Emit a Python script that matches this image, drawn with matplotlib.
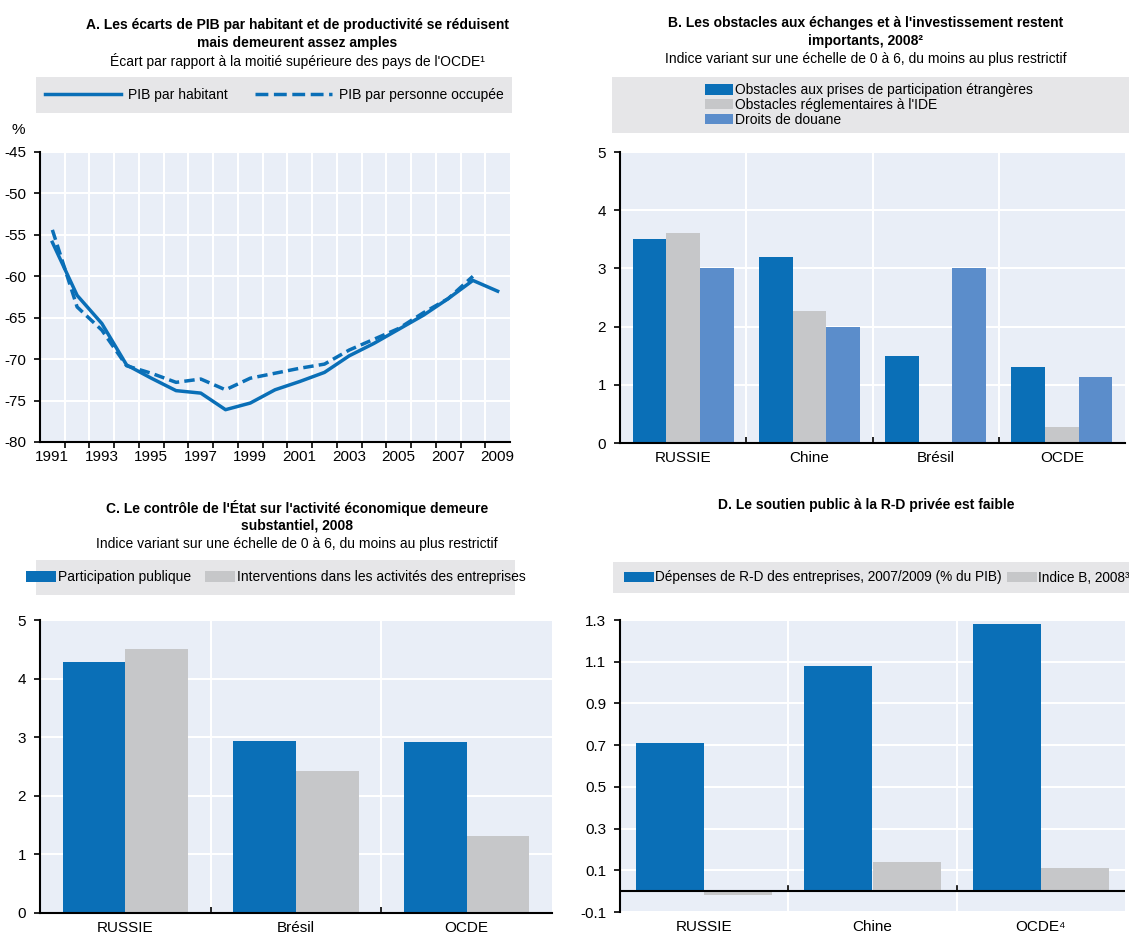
import numpy as np
import matplotlib
matplotlib.use('Agg')
import matplotlib.pyplot as plt
from matplotlib.patches import Rectangle
from matplotlib.lines import Line2D

plt.rcParams['font.family'] = ['Liberation Sans', 'DejaVu Sans']
plt.rcParams['axes.unicode_minus'] = False

# --- données ---
annees = list(range(1991, 2010))
pib_hab = [-55.9, -62.3, -65.7, -70.7, -72.3, -73.8, -74.1, -76.1, -75.3, -73.7,
           -72.7, -71.6, -69.6, -68.1, -66.4, -64.7, -62.7, -60.5, -61.8]
pib_occ = [-54.4, -63.7, -66.5, -70.8, -71.7, -72.8, -72.4, -73.7, -72.3, -71.7,
           -71.1, -70.6, -68.9, -67.6, -66.3, -64.4, -62.7, -60.0, np.nan]

pays_b = ['RUSSIE', 'Chine', 'Brésil', 'OCDE']
prises_part = [3.5, 3.2, 1.5, 1.3]
obst_regl = [3.6, 2.27, 0.0, 0.27]
droits_douane = [3.0, 2.0, 3.0, 1.13]

pays_c = ['RUSSIE', 'Brésil', 'OCDE']
part_publique = [4.28, 2.93, 2.92]
interventions = [4.5, 2.42, 1.32]

pays_d = ['RUSSIE', 'Chine', 'OCDE⁴']
depenses_rd = [0.71, 1.08, 1.28]
indice_b = [-0.02, 0.14, 0.11]

BLEU = '#0a6fb7'
BLEU2 = '#5b8dcb'
GRIS = '#c6c7c9'
FOND = '#e9eef7'
LEG = '#e6e6e8'
TXT = 10

W, H = 1129, 935
fig = plt.figure(figsize=(W / 100, H / 100), dpi=100)


def boite(x0, y0, x1, y1):
    # rectangle en pixels (origine en haut)
    return [x0 / W, 1 - y1 / H, (x1 - x0) / W, (y1 - y0) / H]


def style(ax):
    ax.set_facecolor(FOND)
    for s in ['top', 'right']:
        ax.spines[s].set_visible(False)
    ax.spines['left'].set_linewidth(1.5)
    ax.spines['bottom'].set_linewidth(1.5)
    ax.grid(axis='y', color='white', lw=1.5)
    ax.set_axisbelow(True)
    ax.tick_params(axis='y', labelsize=11, length=4, width=1.2, direction='out', pad=6)
    ax.tick_params(axis='x', labelsize=11)


def legende(rect, handles, labels, ncol, fs=TXT, **kw):
    lax = fig.add_axes(boite(*rect))
    lax.set_facecolor(LEG)
    for s in lax.spines.values():
        s.set_visible(False)
    lax.set_xticks([])
    lax.set_yticks([])
    lax.legend(handles, labels, ncol=ncol, frameon=False, fontsize=fs,
               borderaxespad=0, **kw)
    return lax


def carre(c):
    return Rectangle((0, 0), 1, 1, facecolor=c, edgecolor='none')


def titre(xc, y, lignes, sous):
    for i, t in enumerate(lignes):
        fig.text(xc / W, 1 - (y + i * 18) / H, t, ha='center', va='center',
                 fontsize=TXT, fontweight='bold')
    if sous:
        fig.text(xc / W, 1 - (y + len(lignes) * 18) / H, sous, ha='center',
                 va='center', fontsize=TXT)


# ---------------- Panneau A ----------------
titre(297, 25, ['A. Les écarts de PIB par habitant et de productivité se réduisent',
                'mais demeurent assez amples'],
      "Écart par rapport à la moitié supérieure des pays de l'OCDE¹")
legende((36, 77, 512, 113),
        [Line2D([], [], color=BLEU, lw=2.5), Line2D([], [], color=BLEU, lw=2.5, ls='--')],
        ['PIB par habitant', 'PIB par personne occupée'], 2,
        loc='center', handlelength=5.5, handletextpad=0.5, columnspacing=2)

axa = fig.add_axes(boite(40, 152, 510, 442))
style(axa)
axa.plot(annees, pib_hab, color=BLEU, lw=2.5)
axa.plot(annees, pib_occ, color=BLEU, lw=2.5, ls='--', dashes=(3, 1.5))
axa.set_xlim(1990.5, 2009.5)
axa.set_ylim(-80, -45)
axa.set_yticks(np.arange(-80, -44, 5))
axa.set_xticks(annees[::2])
axa.set_xticks(np.arange(1991.5, 2009, 1), minor=True)
axa.grid(axis='x', which='minor', color='white', lw=1.5)
axa.tick_params(axis='x', which='major', length=0, pad=6)
axa.tick_params(axis='x', which='minor', length=4, width=1.2, direction='out')
fig.text(18 / W, 1 - 130 / H, '%', ha='center', va='center', fontsize=11)

# ---------------- Panneau B ----------------
titre(866, 23, ["B. Les obstacles aux échanges et à l'investissement restent",
                'importants, 2008²'],
      'Indice variant sur une échelle de 0 à 6, du moins au plus restrictif')
legende((612, 77, 1129, 133),
        [carre(BLEU), carre(GRIS), carre(BLEU2)],
        ['Obstacles aux prises de participation étrangères',
         "Obstacles réglementaires à l'IDE", 'Droits de douane'], 1,
        loc='center left', bbox_to_anchor=(0.17, 0.5), labelspacing=0.05,
        handlelength=2.0, handleheight=0.8, handletextpad=0.1)

axb = fig.add_axes(boite(620, 152, 1125, 443))
style(axb)
xb = np.arange(len(pays_b))
wb = 0.267
axb.bar(xb - wb, prises_part, wb, color=BLEU)
axb.bar(xb, obst_regl, wb, color=GRIS)
axb.bar(xb + wb, droits_douane, wb, color=BLEU2)
axb.set_xlim(-0.5, len(pays_b) - 0.5)
axb.set_ylim(0, 5)
axb.set_xticks(xb)
axb.set_xticklabels(pays_b)
axb.set_xticks(np.arange(0.5, len(pays_b) - 0.5, 1), minor=True)
axb.grid(axis='x', which='minor', color='white', lw=1.5)
axb.tick_params(axis='x', which='major', length=0, pad=6)
axb.tick_params(axis='x', which='minor', length=4, width=1.2, direction='in')

# ---------------- Panneau C ----------------
titre(297, 508, ["C. Le contrôle de l'État sur l'activité économique demeure",
                 'substantiel, 2008'],
      'Indice variant sur une échelle de 0 à 6, du moins au plus restrictif')
legende((36, 560, 515, 595),
        [carre(BLEU), carre(GRIS)],
        ['Participation publique', 'Interventions dans les activités des entreprises'], 2,
        loc='center', handlelength=2.2, handleheight=0.8, handletextpad=0.1,
        columnspacing=1.0)

axc = fig.add_axes(boite(40, 620, 552, 913))
style(axc)
xc = np.arange(len(pays_c))
wc = 0.367
axc.bar(xc - wc / 2, part_publique, wc, color=BLEU)
axc.bar(xc + wc / 2, interventions, wc, color=GRIS)
axc.set_xlim(-0.5, len(pays_c) - 0.5)
axc.set_ylim(0, 5)
axc.set_xticks(xc)
axc.set_xticklabels(pays_c)
axc.set_xticks(np.arange(0.5, len(pays_c) - 0.5, 1), minor=True)
axc.grid(axis='x', which='minor', color='white', lw=1.5)
axc.tick_params(axis='x', which='major', length=0, pad=6)
axc.tick_params(axis='x', which='minor', length=4, width=1.2, direction='in')

# ---------------- Panneau D ----------------
titre(866, 505, ['D. Le soutien public à la R-D privée est faible'], None)
legende((613, 562, 1129, 593),
        [carre(BLEU), carre(GRIS)],
        ['Dépenses de R-D des entreprises, 2007/2009 (% du PIB)', 'Indice B, 2008³'], 2,
        fs=9.8, loc='center left', bbox_to_anchor=(0.01, 0.5), handlelength=2.2,
        handleheight=0.8, handletextpad=0.1, columnspacing=0.4)

axd = fig.add_axes(boite(620, 620, 1125, 912))
style(axd)
xd = np.arange(len(pays_d))
wd = 0.405
axd.bar(xd - wd / 2, depenses_rd, wd, color=BLEU)
axd.bar(xd + wd / 2, indice_b, wd, color=GRIS)
axd.set_xlim(-0.5, len(pays_d) - 0.5)
axd.set_ylim(-0.1, 1.3)
axd.set_yticks(np.arange(-0.1, 1.31, 0.2))
axd.set_yticklabels(['-0.1', '0.1', '0.3', '0.5', '0.7', '0.9', '1.1', '1.3'])
axd.set_xticks(xd)
axd.set_xticklabels(pays_d)
axd.set_xticks(np.arange(0.5, len(pays_d) - 0.5, 1), minor=True)
axd.grid(axis='x', which='minor', color='white', lw=1.5)
axd.axhline(0, color='black', lw=1.5)
axd.spines['bottom'].set_linewidth(0)
axd.tick_params(axis='x', which='both', length=0, pad=6)
for xm in np.arange(0.5, len(pays_d) - 0.5, 1):
    axd.plot([xm, xm], [0, 0.025], color='black', lw=1.2)

fig.savefig('out.png', dpi=100)
